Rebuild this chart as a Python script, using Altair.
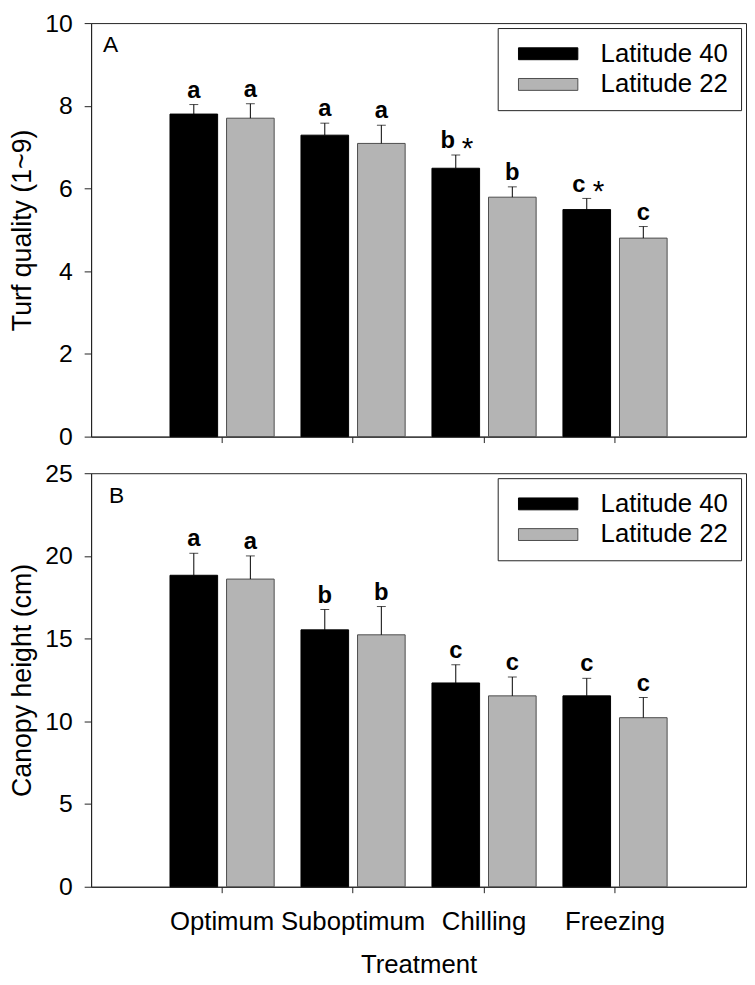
import altair as alt
import pandas as pd

treatments = ["Optimum", "Suboptimum", "Chilling", "Freezing"]
series = ["Latitude 40", "Latitude 22"]

# Panel A: turf quality
qual_lat40 = [7.80, 7.29, 6.49, 5.49]
qual_lat40_se = [0.23, 0.29, 0.32, 0.27]
qual_lat22 = [7.70, 7.09, 5.79, 4.80]
qual_lat22_se = [0.35, 0.44, 0.25, 0.28]
qual_letters40 = ["a", "a", "b", "c"]
qual_letters22 = ["a", "a", "b", "c"]
qual_star40 = [False, False, True, True]
qual_star22 = [False, False, False, False]

# Panel B: canopy height
height_lat40 = [18.83, 15.53, 12.32, 11.54]
height_lat40_se = [1.33, 1.23, 1.10, 1.06]
height_lat22 = [18.60, 15.23, 11.54, 10.22]
height_lat22_se = [1.40, 1.71, 1.14, 1.22]
height_letters40 = ["a", "b", "c", "c"]
height_letters22 = ["a", "b", "c", "c"]
height_star40 = [False, False, False, False]
height_star22 = [False, False, False, False]

FONT = "Liberation Sans"
W, H = 662, 418
LEG_PATH = "M-1,-1.2H11V1.2H-1Z"


def make_df(v40, s40, l40, st40, v22, s22, l22, st22):
    rows = []
    for i, t in enumerate(treatments):
        rows.append(dict(treatment=t, series=series[0], value=v40[i], err=v40[i] + s40[i],
                         letter=l40[i], star=st40[i]))
        rows.append(dict(treatment=t, series=series[1], value=v22[i], err=v22[i] + s22[i],
                         letter=l22[i], star=st22[i]))
    return pd.DataFrame(rows)


def panel(df, ymax, ystep, ytitle, tag, tag_x, tag_y, show_x):
    base = alt.Chart(df)
    if show_x:
        xaxis = alt.Axis(title="Treatment", labelAngle=0, labelFontSize=26, titleFontSize=26,
                         tickSize=6, labelPadding=16, titlePadding=18)
    else:
        xaxis = alt.Axis(title=None, labels=False, tickSize=6)
    x = alt.X("treatment:N", sort=treatments,
              scale=alt.Scale(paddingInner=0, paddingOuter=0.5), axis=xaxis)
    xoff = alt.XOffset("series:N", sort=series,
                       scale=alt.Scale(domain=series, paddingInner=0.158, paddingOuter=0.237))
    yscale = alt.Scale(domain=[0, ymax], nice=False, zero=True)
    yaxis = alt.Axis(values=list(range(0, ymax + 1, ystep)), tickSize=7, labelPadding=12,
                     labelFontSize=25, titleFontSize=27, titlePadding=8, grid=False)

    bars = base.mark_bar(strokeWidth=1).encode(
        x=x, xOffset=xoff,
        y=alt.Y("value:Q", scale=yscale, axis=yaxis, title=ytitle),
        color=alt.Color("series:N", sort=series,
                        scale=alt.Scale(domain=series, range=["#000000", "#b4b4b4"]),
                        legend=alt.Legend(title=None, orient="top-right", offset=5,
                                          strokeColor="#222", fillColor="white", padding=13,
                                          symbolType=LEG_PATH, symbolSize=100,
                                          symbolStrokeWidth=1, symbolStrokeColor="#333",
                                          labelFontSize=26, labelOffset=65, rowPadding=5,
                                          labelColor="black", labelFont=FONT)),
        stroke=alt.Stroke("series:N", sort=series,
                          scale=alt.Scale(domain=series, range=["#000000", "#4d4d4d"]),
                          legend=None),
    )
    rules = base.mark_rule(color="black", strokeWidth=1).encode(
        x=x, xOffset=xoff,
        y=alt.Y("value:Q", scale=yscale, title=ytitle), y2="err:Q",
    )
    caps = base.mark_tick(color="black", thickness=1, size=9, orient="horizontal").encode(
        x=x, xOffset=xoff,
        y=alt.Y("err:Q", scale=yscale, title=ytitle),
    )
    plain = base.transform_filter("!datum.star").mark_text(
        fontWeight="bold", fontSize=24, baseline="alphabetic", dy=-7, color="black", font=FONT
    ).encode(x=x, xOffset=xoff, y=alt.Y("err:Q", scale=yscale, title=ytitle), text="letter:N")
    starred = base.transform_filter("datum.star").mark_text(
        fontWeight="bold", fontSize=24, baseline="alphabetic", dy=-7, dx=-8, color="black", font=FONT
    ).encode(x=x, xOffset=xoff, y=alt.Y("err:Q", scale=yscale, title=ytitle), text="letter:N")
    stars = base.transform_filter("datum.star").mark_text(
        fontSize=30, baseline="alphabetic", dy=3, dx=12, color="black", font=FONT
    ).encode(x=x, xOffset=xoff, y=alt.Y("err:Q", scale=yscale, title=ytitle), text=alt.value("*"))
    tagc = alt.Chart(pd.DataFrame({"t": [tag]})).mark_text(
        align="left", baseline="alphabetic", fontSize=23, color="black", font=FONT
    ).encode(x=alt.value(tag_x), y=alt.value(tag_y), text="t:N")

    return alt.layer(bars, rules, caps, plain, starred, stars, tagc).properties(width=W, height=H)


df_a = make_df(qual_lat40, qual_lat40_se, qual_letters40, qual_star40,
               qual_lat22, qual_lat22_se, qual_letters22, qual_star22)
df_b = make_df(height_lat40, height_lat40_se, height_letters40, height_star40,
               height_lat22, height_lat22_se, height_letters22, height_star22)

pa = panel(df_a, 10, 2, "Turf quality (1~9)", "A", 12, 29, False)
pb = panel(df_b, 25, 5, "Canopy height (cm)", "B", 18, 30, True)

chart = alt.vconcat(pa, pb, spacing=10).resolve_scale(
    color="independent", stroke="independent"
).resolve_legend(color="independent").properties(
    padding={"top": -3, "bottom": -5, "left": 0, "right": 0}
).configure_view(
    stroke="#222", strokeWidth=1
).configure_axis(
    domainColor="#222", tickColor="#222", labelColor="black", titleColor="black",
    labelFont=FONT, titleFont=FONT, titleFontWeight="normal"
).configure_text(font=FONT)

chart.save("out.html", embed_options={"renderer": "svg", "actions": False})
